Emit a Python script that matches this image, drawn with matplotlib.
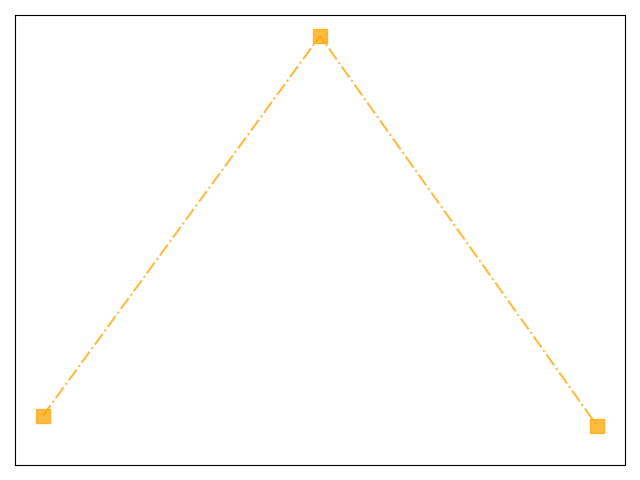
import matplotlib
matplotlib.use("Agg")
import matplotlib.pyplot as plt

x_vals = [0, 1, 2]
y_vals = [2, 40, 1]

fig = plt.figure(figsize=(6.4, 4.8), dpi=100)
ax = fig.add_axes([15/640, 15/480, 610/640, 450/480])
ax.plot(x_vals, y_vals, linestyle='-.', color='#FFA500', alpha=0.75,
        marker='s', markersize=10.5)
ax.set_xlim(-0.1, 2.1)
ax.set_ylim(-2.9, 42.1)
ax.set_xticks([])
ax.set_yticks([])
fig.savefig("out.png", dpi=100)
